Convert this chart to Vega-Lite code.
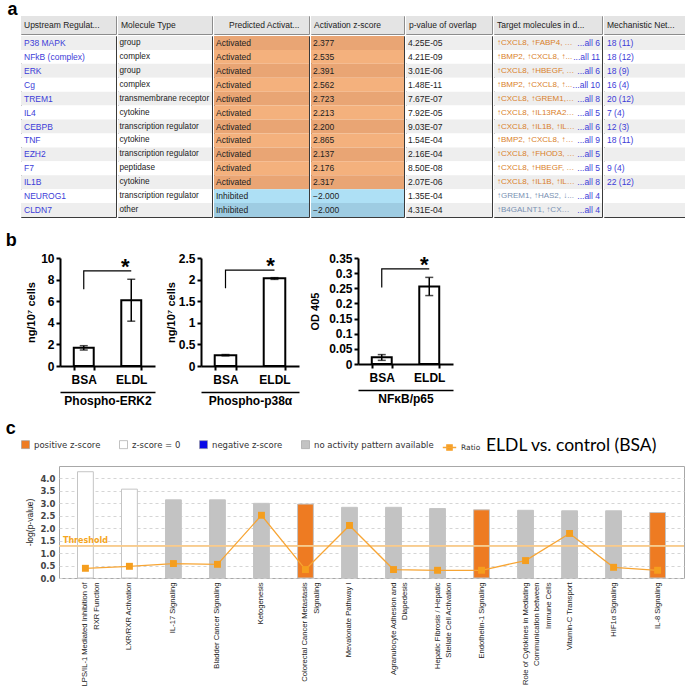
{
  "$schema": "https://vega.github.io/schema/vega-lite/v6.json",
  "padding": {"left": 5, "top": 0, "right": 0, "bottom": 0},
  "config": {
    "view": {"stroke": null},
    "font": "Liberation Sans",
    "title": {"anchor": "start", "fontSize": 18, "fontWeight": "bold", "color": "black", "font": "Liberation Sans", "offset": 2}
  },
  "resolve": {"scale": {"fill": "independent", "color": "independent", "stroke": "independent"}},
  "columns": 1,
  "align": "none",
  "spacing": 14,
  "datasets": {
    "headers": [
      {"col": "reg", "h": "Upstream Regulat..."},
      {"col": "type", "h": "Molecule Type"},
      {"col": "pred", "h": "Predicted Activat..."},
      {"col": "z", "h": "Activation z-score"},
      {"col": "p", "h": "p-value of overlap"},
      {"col": "tgt", "h": "Target molecules in d..."},
      {"col": "net", "h": "Mechanistic Net..."}
    ],
    "table": [
      {"r": 1, "reg": "P38 MAPK", "type": "group", "pred": "Activated", "z": 2.377, "p": "4.25E-05", "tgt": "↑CXCL8, ↑FABP4, ↑IL1B", "all": "...all 6", "net": "18 (11)"},
      {"r": 2, "reg": "NFkB (complex)", "type": "complex", "pred": "Activated", "z": 2.535, "p": "4.21E-09", "tgt": "↑BMP2, ↑CXCL8, ↑...", "all": "...all 11", "net": "18 (12)"},
      {"r": 3, "reg": "ERK", "type": "group", "pred": "Activated", "z": 2.391, "p": "3.01E-06", "tgt": "↑CXCL8, ↑HBEGF, ↑...", "all": "...all 6", "net": "18 (9)"},
      {"r": 4, "reg": "Cg", "type": "complex", "pred": "Activated", "z": 2.562, "p": "1.48E-11", "tgt": "↑BMP2, ↑CXCL8, ↑...", "all": "...all 10", "net": "16 (4)"},
      {"r": 5, "reg": "TREM1", "type": "transmembrane receptor", "pred": "Activated", "z": 2.723, "p": "7.67E-07", "tgt": "↑CXCL8, ↑GREM1, ↑...", "all": "...all 8", "net": "20 (12)"},
      {"r": 6, "reg": "IL4", "type": "cytokine", "pred": "Activated", "z": 2.213, "p": "7.92E-05", "tgt": "↑CXCL8, ↑IL13RA2, ↑...", "all": "...all 5", "net": "7 (4)"},
      {"r": 7, "reg": "CEBPB", "type": "transcription regulator", "pred": "Activated", "z": 2.2, "p": "9.03E-07", "tgt": "↑CXCL8, ↑IL1B, ↑IL24,", "all": "...all 6", "net": "12 (3)"},
      {"r": 8, "reg": "TNF", "type": "cytokine", "pred": "Activated", "z": 2.865, "p": "1.54E-04", "tgt": "↑BMP2, ↑CXCL8, ↑H...", "all": "...all 9", "net": "18 (11)"},
      {"r": 9, "reg": "EZH2", "type": "transcription regulator", "pred": "Activated", "z": 2.137, "p": "2.16E-04", "tgt": "↑CXCL8, ↑FHOD3, ↑I...", "all": "...all 5", "net": ""},
      {"r": 10, "reg": "F7", "type": "peptidase", "pred": "Activated", "z": 2.176, "p": "8.50E-08", "tgt": "↑CXCL8, ↑HBEGF, ↑I...", "all": "...all 5", "net": "9 (4)"},
      {"r": 11, "reg": "IL1B", "type": "cytokine", "pred": "Activated", "z": 2.317, "p": "2.07E-06", "tgt": "↑CXCL8, ↑IL1B, ↑IL24,", "all": "...all 8", "net": "22 (12)"},
      {"r": 12, "reg": "NEUROG1", "type": "transcription regulator", "pred": "Inhibited", "z": -2.0, "p": "1.35E-04", "tgt": "↑GREM1, ↑HAS2, ↓...", "all": "...all 4", "net": ""},
      {"r": 13, "reg": "CLDN7", "type": "other", "pred": "Inhibited", "z": -2.0, "p": "4.31E-04", "tgt": "↑B4GALNT1, ↑CXCL8, .", "all": "...all 4", "net": ""}
    ],
    "pathways": [
      {"pathway": "LPS/IL-1 Mediated Inhibition of|RXR Function", "logp": 4.27, "ratio": 0.39, "cls": "z-score = 0"},
      {"pathway": "LXR/RXR Activation", "logp": 3.57, "ratio": 0.47, "cls": "z-score = 0"},
      {"pathway": "IL-17 Signaling", "logp": 3.14, "ratio": 0.58, "cls": "no activity pattern available"},
      {"pathway": "Bladder Cancer Signaling", "logp": 3.14, "ratio": 0.55, "cls": "no activity pattern available"},
      {"pathway": "Ketogenesis", "logp": 3.0, "ratio": 2.52, "cls": "no activity pattern available"},
      {"pathway": "Colorectal Cancer Metastasis|Signaling", "logp": 2.97, "ratio": 0.34, "cls": "positive z-score"},
      {"pathway": "Mevalonate Pathway I", "logp": 2.84, "ratio": 2.11, "cls": "no activity pattern available"},
      {"pathway": "Agranulocyte Adhesion and|Diapedesis", "logp": 2.84, "ratio": 0.34, "cls": "no activity pattern available"},
      {"pathway": "Hepatic Fibrosis / Hepatic|Stellate Cell Activation", "logp": 2.79, "ratio": 0.31, "cls": "no activity pattern available"},
      {"pathway": "Endothelin-1 Signaling", "logp": 2.74, "ratio": 0.31, "cls": "positive z-score"},
      {"pathway": "Role of Cytokines in Mediating|Communication between|Immune Cells", "logp": 2.72, "ratio": 0.7, "cls": "no activity pattern available"},
      {"pathway": "Vitamin-C Transport", "logp": 2.7, "ratio": 1.79, "cls": "no activity pattern available"},
      {"pathway": "HIF1α Signaling", "logp": 2.7, "ratio": 0.43, "cls": "no activity pattern available"},
      {"pathway": "IL-8 Signaling", "logp": 2.63, "ratio": 0.31, "cls": "positive z-score"}
    ]
  },
  "concat": [
    {
      "title": {"text": "a", "dx": -13, "dy": 5},
      "spacing": 0,
      "vconcat": [
        {
          "spacing": 0,
          "hconcat": [
            {"width": 95, "height": 18, "data": {"name": "headers"}, "transform": [{"filter": "datum.col == 'reg'"}], "view": {"stroke": "#8C8C8C"},
             "layer": [
               {"mark": {"type": "rect", "fill": "#E4E4E4"}, "encoding": {"x": {"datum": "h", "type": "nominal", "axis": null, "scale": {"paddingInner": 0, "paddingOuter": 0}}, "y": {"datum": "h", "type": "nominal", "axis": null, "scale": {"paddingInner": 0, "paddingOuter": 0}}}},
               {"mark": {"type": "text", "align": "left", "dx": 3, "fontSize": 8.5, "fill": "#222"}, "encoding": {"x": {"datum": "h", "type": "nominal", "bandPosition": 0}, "y": {"datum": "h", "type": "nominal"}, "text": {"field": "h"}}}
             ]},
            {"width": 94, "height": 18, "data": {"name": "headers"}, "transform": [{"filter": "datum.col == 'type'"}], "view": {"stroke": "#8C8C8C"},
             "layer": [
               {"mark": {"type": "rect", "fill": "#E4E4E4"}, "encoding": {"x": {"datum": "h", "type": "nominal", "axis": null, "scale": {"paddingInner": 0, "paddingOuter": 0}}, "y": {"datum": "h", "type": "nominal", "axis": null, "scale": {"paddingInner": 0, "paddingOuter": 0}}}},
               {"mark": {"type": "text", "align": "left", "dx": 3, "fontSize": 8.5, "fill": "#222"}, "encoding": {"x": {"datum": "h", "type": "nominal", "bandPosition": 0}, "y": {"datum": "h", "type": "nominal"}, "text": {"field": "h"}}}
             ]},
            {"width": 95, "height": 18, "data": {"name": "headers"}, "transform": [{"filter": "datum.col == 'pred'"}], "view": {"stroke": "#8C8C8C"},
             "layer": [
               {"mark": {"type": "rect", "fill": "#E4E4E4"}, "encoding": {"x": {"datum": "h", "type": "nominal", "axis": null, "scale": {"paddingInner": 0, "paddingOuter": 0}}, "y": {"datum": "h", "type": "nominal", "axis": null, "scale": {"paddingInner": 0, "paddingOuter": 0}}}},
               {"mark": {"type": "text", "align": "left", "dx": 15, "fontSize": 8.5, "fill": "#222"}, "encoding": {"x": {"datum": "h", "type": "nominal", "bandPosition": 0}, "y": {"datum": "h", "type": "nominal"}, "text": {"field": "h"}}}
             ]},
            {"width": 93, "height": 18, "data": {"name": "headers"}, "transform": [{"filter": "datum.col == 'z'"}], "view": {"stroke": "#8C8C8C"},
             "layer": [
               {"mark": {"type": "rect", "fill": "#E4E4E4"}, "encoding": {"x": {"datum": "h", "type": "nominal", "axis": null, "scale": {"paddingInner": 0, "paddingOuter": 0}}, "y": {"datum": "h", "type": "nominal", "axis": null, "scale": {"paddingInner": 0, "paddingOuter": 0}}}},
               {"mark": {"type": "text", "align": "left", "dx": 3, "fontSize": 8.5, "fill": "#222"}, "encoding": {"x": {"datum": "h", "type": "nominal", "bandPosition": 0}, "y": {"datum": "h", "type": "nominal"}, "text": {"field": "h"}}}
             ]},
            {"width": 86, "height": 18, "data": {"name": "headers"}, "transform": [{"filter": "datum.col == 'p'"}], "view": {"stroke": "#8C8C8C"},
             "layer": [
               {"mark": {"type": "rect", "fill": "#E4E4E4"}, "encoding": {"x": {"datum": "h", "type": "nominal", "axis": null, "scale": {"paddingInner": 0, "paddingOuter": 0}}, "y": {"datum": "h", "type": "nominal", "axis": null, "scale": {"paddingInner": 0, "paddingOuter": 0}}}},
               {"mark": {"type": "text", "align": "left", "dx": 3, "fontSize": 8.5, "fill": "#222"}, "encoding": {"x": {"datum": "h", "type": "nominal", "bandPosition": 0}, "y": {"datum": "h", "type": "nominal"}, "text": {"field": "h"}}}
             ]},
            {"width": 108, "height": 18, "data": {"name": "headers"}, "transform": [{"filter": "datum.col == 'tgt'"}], "view": {"stroke": "#8C8C8C"},
             "layer": [
               {"mark": {"type": "rect", "fill": "#E4E4E4"}, "encoding": {"x": {"datum": "h", "type": "nominal", "axis": null, "scale": {"paddingInner": 0, "paddingOuter": 0}}, "y": {"datum": "h", "type": "nominal", "axis": null, "scale": {"paddingInner": 0, "paddingOuter": 0}}}},
               {"mark": {"type": "text", "align": "left", "dx": 3, "fontSize": 8.5, "fill": "#222"}, "encoding": {"x": {"datum": "h", "type": "nominal", "bandPosition": 0}, "y": {"datum": "h", "type": "nominal"}, "text": {"field": "h"}}}
             ]},
            {"width": 92, "height": 18, "data": {"name": "headers"}, "transform": [{"filter": "datum.col == 'net'"}], "view": {"stroke": "#8C8C8C"},
             "layer": [
               {"mark": {"type": "rect", "fill": "#E4E4E4"}, "encoding": {"x": {"datum": "h", "type": "nominal", "axis": null, "scale": {"paddingInner": 0, "paddingOuter": 0}}, "y": {"datum": "h", "type": "nominal", "axis": null, "scale": {"paddingInner": 0, "paddingOuter": 0}}}},
               {"mark": {"type": "text", "align": "left", "dx": 3, "fontSize": 8.5, "fill": "#222"}, "encoding": {"x": {"datum": "h", "type": "nominal", "bandPosition": 0}, "y": {"datum": "h", "type": "nominal"}, "text": {"field": "h"}}}
             ]}
          ]
        },
        {
          "spacing": 0,
          "hconcat": [
            {"width": 95, "height": 181, "data": {"name": "table"}, "view": {"stroke": "#3A3A3A"},
             "transform": [{"calculate": "datum.r % 2 == 1 ? 'odd' : 'even'", "as": "bg"}],
             "layer": [
               {"mark": {"type": "rect"}, "encoding": {
                 "x": {"datum": "cell", "type": "nominal", "axis": null, "scale": {"paddingInner": 0, "paddingOuter": 0}},
                 "y": {"field": "r", "type": "ordinal", "axis": null, "scale": {"paddingInner": 0, "paddingOuter": 0}},
                 "fill": {"field": "bg", "type": "nominal", "legend": null, "scale": {"domain": ["odd", "even", "Activated-odd", "Activated-even", "Inhibited-odd", "Inhibited-even"], "range": ["#EEEEEE", "#FFFFFF", "#E9A574", "#F4B17D", "#9ECCE2", "#AEE0F5"]}}}},
               {"mark": {"type": "text", "align": "left", "dx": 3, "fontSize": 8.5, "fill": "#3C3CD8"}, "encoding": {
                 "x": {"datum": "cell", "type": "nominal", "bandPosition": 0},
                 "y": {"field": "r", "type": "ordinal"},
                 "text": {"field": "reg"}}}
             ]},
            {"width": 94, "height": 181, "data": {"name": "table"}, "view": {"stroke": "#3A3A3A"},
             "transform": [{"calculate": "datum.r % 2 == 1 ? 'odd' : 'even'", "as": "bg"}],
             "layer": [
               {"mark": {"type": "rect"}, "encoding": {
                 "x": {"datum": "cell", "type": "nominal", "axis": null, "scale": {"paddingInner": 0, "paddingOuter": 0}},
                 "y": {"field": "r", "type": "ordinal", "axis": null, "scale": {"paddingInner": 0, "paddingOuter": 0}},
                 "fill": {"field": "bg", "type": "nominal", "legend": null, "scale": {"domain": ["odd", "even", "Activated-odd", "Activated-even", "Inhibited-odd", "Inhibited-even"], "range": ["#EEEEEE", "#FFFFFF", "#E9A574", "#F4B17D", "#9ECCE2", "#AEE0F5"]}}}},
               {"mark": {"type": "text", "align": "left", "dx": 1.5, "fontSize": 8.2, "fill": "#222"}, "encoding": {
                 "x": {"datum": "cell", "type": "nominal", "bandPosition": 0},
                 "y": {"field": "r", "type": "ordinal"},
                 "text": {"field": "type"}}}
             ]},
            {"width": 95, "height": 181, "data": {"name": "table"}, "view": {"stroke": "#3A3A3A"},
             "transform": [{"calculate": "datum.pred + '-' + (datum.r % 2 == 1 ? 'odd' : 'even')", "as": "bg"}],
             "layer": [
               {"mark": {"type": "rect"}, "encoding": {
                 "x": {"datum": "cell", "type": "nominal", "axis": null, "scale": {"paddingInner": 0, "paddingOuter": 0}},
                 "y": {"field": "r", "type": "ordinal", "axis": null, "scale": {"paddingInner": 0, "paddingOuter": 0}},
                 "fill": {"field": "bg", "type": "nominal", "legend": null, "scale": {"domain": ["odd", "even", "Activated-odd", "Activated-even", "Inhibited-odd", "Inhibited-even"], "range": ["#EEEEEE", "#FFFFFF", "#E9A574", "#F4B17D", "#9ECCE2", "#AEE0F5"]}}}},
               {"mark": {"type": "text", "align": "left", "dx": 2, "fontSize": 8.5, "fill": "#222"}, "encoding": {
                 "x": {"datum": "cell", "type": "nominal", "bandPosition": 0},
                 "y": {"field": "r", "type": "ordinal"},
                 "text": {"field": "pred"}}}
             ]},
            {"width": 93, "height": 181, "data": {"name": "table"}, "view": {"stroke": "#3A3A3A"},
             "transform": [{"calculate": "datum.pred + '-' + (datum.r % 2 == 1 ? 'odd' : 'even')", "as": "bg"}],
             "layer": [
               {"mark": {"type": "rect"}, "encoding": {
                 "x": {"datum": "cell", "type": "nominal", "axis": null, "scale": {"paddingInner": 0, "paddingOuter": 0}},
                 "y": {"field": "r", "type": "ordinal", "axis": null, "scale": {"paddingInner": 0, "paddingOuter": 0}},
                 "fill": {"field": "bg", "type": "nominal", "legend": null, "scale": {"domain": ["odd", "even", "Activated-odd", "Activated-even", "Inhibited-odd", "Inhibited-even"], "range": ["#EEEEEE", "#FFFFFF", "#E9A574", "#F4B17D", "#9ECCE2", "#AEE0F5"]}}}},
               {"mark": {"type": "text", "align": "left", "dx": 2, "fontSize": 8.5, "fill": "#222"}, "encoding": {
                 "x": {"datum": "cell", "type": "nominal", "bandPosition": 0},
                 "y": {"field": "r", "type": "ordinal"},
                 "text": {"field": "z", "type": "quantitative", "format": ".3f"}}}
             ]},
            {"width": 86, "height": 181, "data": {"name": "table"}, "view": {"stroke": "#3A3A3A"},
             "transform": [{"calculate": "datum.r % 2 == 1 ? 'odd' : 'even'", "as": "bg"}],
             "layer": [
               {"mark": {"type": "rect"}, "encoding": {
                 "x": {"datum": "cell", "type": "nominal", "axis": null, "scale": {"paddingInner": 0, "paddingOuter": 0}},
                 "y": {"field": "r", "type": "ordinal", "axis": null, "scale": {"paddingInner": 0, "paddingOuter": 0}},
                 "fill": {"field": "bg", "type": "nominal", "legend": null, "scale": {"domain": ["odd", "even", "Activated-odd", "Activated-even", "Inhibited-odd", "Inhibited-even"], "range": ["#EEEEEE", "#FFFFFF", "#E9A574", "#F4B17D", "#9ECCE2", "#AEE0F5"]}}}},
               {"mark": {"type": "text", "align": "left", "dx": 2, "fontSize": 8.5, "fill": "#222"}, "encoding": {
                 "x": {"datum": "cell", "type": "nominal", "bandPosition": 0},
                 "y": {"field": "r", "type": "ordinal"},
                 "text": {"field": "p"}}}
             ]},
            {"width": 108, "height": 181, "data": {"name": "table"}, "view": {"stroke": "#3A3A3A"},
             "transform": [{"calculate": "datum.r % 2 == 1 ? 'odd' : 'even'", "as": "bg"}],
             "layer": [
               {"mark": {"type": "rect"}, "encoding": {
                 "x": {"datum": "cell", "type": "nominal", "axis": null, "scale": {"paddingInner": 0, "paddingOuter": 0}},
                 "y": {"field": "r", "type": "ordinal", "axis": null, "scale": {"paddingInner": 0, "paddingOuter": 0}},
                 "fill": {"field": "bg", "type": "nominal", "legend": null, "scale": {"domain": ["odd", "even", "Activated-odd", "Activated-even", "Inhibited-odd", "Inhibited-even"], "range": ["#EEEEEE", "#FFFFFF", "#E9A574", "#F4B17D", "#9ECCE2", "#AEE0F5"]}}}},
               {"mark": {"type": "text", "align": "left", "dx": 3, "fontSize": 8, "limit": 78}, "encoding": {
                 "x": {"datum": "cell", "type": "nominal", "bandPosition": 0},
                 "y": {"field": "r", "type": "ordinal"},
                 "color": {"field": "pred", "type": "nominal", "legend": null, "scale": {"domain": ["Activated", "Inhibited"], "range": ["#D9802A", "#7890B2"]}},
                 "text": {"field": "tgt"}}},
               {"mark": {"type": "text", "align": "right", "dx": -2, "fontSize": 8.5, "fill": "#3C3CD8"}, "encoding": {
                 "x": {"datum": "cell", "type": "nominal", "bandPosition": 1},
                 "y": {"field": "r", "type": "ordinal"},
                 "text": {"field": "all"}}}
             ]},
            {"width": 92, "height": 181, "data": {"name": "table"}, "view": {"stroke": "#3A3A3A"},
             "transform": [{"calculate": "datum.r % 2 == 1 ? 'odd' : 'even'", "as": "bg"}],
             "layer": [
               {"mark": {"type": "rect"}, "encoding": {
                 "x": {"datum": "cell", "type": "nominal", "axis": null, "scale": {"paddingInner": 0, "paddingOuter": 0}},
                 "y": {"field": "r", "type": "ordinal", "axis": null, "scale": {"paddingInner": 0, "paddingOuter": 0}},
                 "fill": {"field": "bg", "type": "nominal", "legend": null, "scale": {"domain": ["odd", "even", "Activated-odd", "Activated-even", "Inhibited-odd", "Inhibited-even"], "range": ["#EEEEEE", "#FFFFFF", "#E9A574", "#F4B17D", "#9ECCE2", "#AEE0F5"]}}}},
               {"mark": {"type": "text", "align": "left", "dx": 3, "fontSize": 8.5, "fill": "#3C3CD8"}, "encoding": {
                 "x": {"datum": "cell", "type": "nominal", "bandPosition": 0},
                 "y": {"field": "r", "type": "ordinal"},
                 "text": {"field": "net"}}}
             ]}
          ]
        }
      ]
    },
    {
      "title": {"text": "b", "dx": -13},
      "spacing": 0,
      "hconcat": [
        {"width": 1, "height": 1, "data": {"values": [{"s": 0}]}, "mark": {"type": "point", "opacity": 0}, "encoding": {}},
        {
          "spacing": 10,
          "hconcat": [
            {
              "width": 95, "height": 108,
              "data": {"values": [{"group": "BSA", "mean": 1.68, "low": 1.48, "high": 1.88}, {"group": "ELDL", "mean": 6.08, "low": 4.15, "high": 8.03}]},
              "resolve": {"axis": {"x": "independent", "y": "independent"}},
              "layer": [
                {"mark": {"type": "bar", "fill": "white", "stroke": "black", "strokeWidth": 2},
                 "encoding": {
                   "x": {"field": "group", "type": "nominal", "sort": ["BSA", "ELDL"], "scale": {"paddingInner": 0.58}, "axis": {"title": null, "labelAngle": 0, "labelFontWeight": "bold", "labelFontSize": 12, "labelColor": "black", "labelPadding": 4, "domainColor": "black", "domainWidth": 2, "tickBand": "extent", "tickColor": "black", "tickWidth": 2, "tickSize": 4}},
                   "y": {"field": "mean", "type": "quantitative", "scale": {"domain": [0, 10], "nice": false}, "axis": {"title": "ng/10⁷ cells", "values": [0, 2, 4, 6, 8, 10], "format": "d", "labelOverlap": false, "grid": false, "labelFontWeight": "bold", "labelFontSize": 12, "labelColor": "black", "domainColor": "black", "domainWidth": 2, "tickColor": "black", "tickWidth": 2, "tickSize": 4, "titleFontWeight": "bold", "titleFontSize": 11, "titleColor": "black", "titlePadding": 4}}}},
                {"mark": {"type": "errorbar", "ticks": {"size": 8}, "thickness": 1.5, "color": "black"},
                 "encoding": {"x": {"field": "group", "type": "nominal", "axis": null}, "y": {"field": "low", "type": "quantitative", "axis": null}, "y2": {"field": "high"}}},
                {"data": {"values": [{"group": "BSA", "level": 7.1, "step": 1}, {"group": "BSA", "level": 8.8, "step": 2}, {"group": "ELDL", "level": 8.8, "step": 3}]},
                 "mark": {"type": "line", "color": "black", "strokeWidth": 1.2},
                 "encoding": {"x": {"field": "group", "type": "nominal", "axis": {"orient": "bottom", "offset": 26, "labels": false, "ticks": false, "domainColor": "black", "domainWidth": 1.5, "title": "Phospho-ERK2", "titleFontWeight": "bold", "titleFontSize": 12, "titleColor": "black", "titlePadding": 3}}, "y": {"field": "level", "type": "quantitative", "axis": null}, "order": {"field": "step"}}},
                {"data": {"values": [{"group": "ELDL", "level": 8.8, "sig": "*"}]},
                 "mark": {"type": "text", "fontSize": 22, "fontWeight": "bold", "baseline": "middle", "dx": -6, "dy": -4},
                 "encoding": {"x": {"field": "group", "type": "nominal", "axis": null}, "y": {"field": "level", "type": "quantitative", "axis": null}, "text": {"field": "sig"}}}
              ]
            },
            {
              "width": 98, "height": 108,
              "data": {"values": [{"group": "BSA", "mean": 0.25, "low": 0.235, "high": 0.265}, {"group": "ELDL", "mean": 2.03, "low": 2.005, "high": 2.045}]},
              "resolve": {"axis": {"x": "independent", "y": "independent"}},
              "layer": [
                {"mark": {"type": "bar", "fill": "white", "stroke": "black", "strokeWidth": 2},
                 "encoding": {
                   "x": {"field": "group", "type": "nominal", "sort": ["BSA", "ELDL"], "scale": {"paddingInner": 0.56}, "axis": {"title": null, "labelAngle": 0, "labelFontWeight": "bold", "labelFontSize": 12, "labelColor": "black", "labelPadding": 4, "domainColor": "black", "domainWidth": 2, "tickBand": "extent", "tickColor": "black", "tickWidth": 2, "tickSize": 4}},
                   "y": {"field": "mean", "type": "quantitative", "scale": {"domain": [0, 2.5], "nice": false}, "axis": {"title": "ng/10⁷ cells", "values": [0, 0.5, 1, 1.5, 2, 2.5], "format": "~g", "labelOverlap": false, "grid": false, "labelFontWeight": "bold", "labelFontSize": 12, "labelColor": "black", "domainColor": "black", "domainWidth": 2, "tickColor": "black", "tickWidth": 2, "tickSize": 4, "titleFontWeight": "bold", "titleFontSize": 11, "titleColor": "black", "titlePadding": 2}}}},
                {"mark": {"type": "errorbar", "ticks": {"size": 8}, "thickness": 1.5, "color": "black"},
                 "encoding": {"x": {"field": "group", "type": "nominal", "axis": null}, "y": {"field": "low", "type": "quantitative", "axis": null}, "y2": {"field": "high"}}},
                {"data": {"values": [{"group": "BSA", "level": 1.8, "step": 1}, {"group": "BSA", "level": 2.22, "step": 2}, {"group": "ELDL", "level": 2.22, "step": 3}]},
                 "mark": {"type": "line", "color": "black", "strokeWidth": 1.2},
                 "encoding": {"x": {"field": "group", "type": "nominal", "axis": {"orient": "bottom", "offset": 26, "labels": false, "ticks": false, "domainColor": "black", "domainWidth": 1.5, "title": "Phospho-p38α", "titleFontWeight": "bold", "titleFontSize": 12, "titleColor": "black", "titlePadding": 3}}, "y": {"field": "level", "type": "quantitative", "axis": null}, "order": {"field": "step"}}},
                {"data": {"values": [{"group": "ELDL", "level": 2.22, "sig": "*"}]},
                 "mark": {"type": "text", "fontSize": 22, "fontWeight": "bold", "baseline": "middle", "dx": -4, "dy": -4},
                 "encoding": {"x": {"field": "group", "type": "nominal", "axis": null}, "y": {"field": "level", "type": "quantitative", "axis": null}, "text": {"field": "sig"}}}
              ]
            },
            {
              "width": 95, "height": 106,
              "data": {"values": [{"group": "BSA", "mean": 0.022, "low": 0.012, "high": 0.031}, {"group": "ELDL", "mean": 0.256, "low": 0.226, "high": 0.286}]},
              "resolve": {"axis": {"x": "independent", "y": "independent"}},
              "layer": [
                {"mark": {"type": "bar", "fill": "white", "stroke": "black", "strokeWidth": 2},
                 "encoding": {
                   "x": {"field": "group", "type": "nominal", "sort": ["BSA", "ELDL"], "scale": {"paddingInner": 0.58}, "axis": {"title": null, "labelAngle": 0, "labelFontWeight": "bold", "labelFontSize": 12, "labelColor": "black", "labelPadding": 4, "domainColor": "black", "domainWidth": 2, "tickBand": "extent", "tickColor": "black", "tickWidth": 2, "tickSize": 4}},
                   "y": {"field": "mean", "type": "quantitative", "scale": {"domain": [0, 0.35], "nice": false}, "axis": {"title": "OD 405", "values": [0, 0.05, 0.1, 0.15, 0.2, 0.25, 0.3, 0.35], "format": "~g", "labelOverlap": false, "grid": false, "labelFontWeight": "bold", "labelFontSize": 12, "labelColor": "black", "domainColor": "black", "domainWidth": 2, "tickColor": "black", "tickWidth": 2, "tickSize": 4, "titleFontWeight": "bold", "titleFontSize": 11, "titleColor": "black", "titlePadding": 8}}}},
                {"mark": {"type": "errorbar", "ticks": {"size": 8}, "thickness": 1.5, "color": "black"},
                 "encoding": {"x": {"field": "group", "type": "nominal", "axis": null}, "y": {"field": "low", "type": "quantitative", "axis": null}, "y2": {"field": "high"}}},
                {"data": {"values": [{"group": "BSA", "level": 0.253, "step": 1}, {"group": "BSA", "level": 0.314, "step": 2}, {"group": "ELDL", "level": 0.314, "step": 3}]},
                 "mark": {"type": "line", "color": "black", "strokeWidth": 1.2},
                 "encoding": {"x": {"field": "group", "type": "nominal", "axis": {"orient": "bottom", "offset": 26, "labels": false, "ticks": false, "domainColor": "black", "domainWidth": 1.5, "title": "NFκB/p65", "titleFontWeight": "bold", "titleFontSize": 12, "titleColor": "black", "titlePadding": 3}}, "y": {"field": "level", "type": "quantitative", "axis": null}, "order": {"field": "step"}}},
                {"data": {"values": [{"group": "ELDL", "level": 0.314, "sig": "*"}]},
                 "mark": {"type": "text", "fontSize": 22, "fontWeight": "bold", "baseline": "middle", "dx": -5, "dy": -4},
                 "encoding": {"x": {"field": "group", "type": "nominal", "axis": null}, "y": {"field": "level", "type": "quantitative", "axis": null}, "text": {"field": "sig"}}}
              ]
            }
          ]
        }
      ]
    },
    {
      "title": {"text": "c", "dx": -13},
      "spacing": 0,
      "hconcat": [
        {"width": 1, "height": 1, "data": {"values": [{"s": 0}]}, "mark": {"type": "point", "opacity": 0}, "encoding": {}},
        {
          "width": 625, "height": 112,
          "data": {"name": "pathways"},
          "view": {"stroke": "#A8A8A8"},
          "resolve": {"axis": {"x": "independent", "y": "independent"}},
          "layer": [
            {"mark": {"type": "bar", "stroke": "#C4C4C4", "strokeWidth": 1},
             "encoding": {
               "x": {"field": "pathway", "type": "nominal", "sort": null, "scale": {"paddingInner": 0.64, "paddingOuter": 0.42},
                     "axis": {"title": null, "labelAngle": -90, "labelAlign": "right", "labelBaseline": "middle", "labelExpr": "split(datum.label, '|')", "labelFont": "Liberation Sans", "labelFontSize": 7.6, "labelLineHeight": 11.5, "labelColor": "#222", "labelPadding": 4, "ticks": false, "domain": false, "labelLimit": 0}},
               "y": {"field": "logp", "type": "quantitative", "scale": {"domain": [0, 4.5], "nice": false},
                     "axis": {"title": "-log(p-value)", "values": [0, 0.5, 1, 1.5, 2, 2.5, 3, 3.5, 4], "format": ".1f", "labelOverlap": false, "labelFont": "DejaVu Sans", "labelFontSize": 8.5, "labelFontWeight": "bold", "labelColor": "#444", "ticks": false, "domain": false, "grid": true, "gridDash": [3, 3], "gridColor": "#D5D5D5", "titleFont": "Liberation Sans", "titleFontSize": 8.5, "titleFontWeight": "normal", "titleColor": "#222", "titlePadding": 5, "labelPadding": 4}},
               "fill": {"field": "cls", "type": "nominal",
                        "scale": {"domain": ["positive z-score", "z-score = 0", "negative z-score", "no activity pattern available"], "range": ["#EE7B22", "#FFFFFF", "#0A0AE6", "#C3C3C3"]},
                        "legend": {"orient": "top", "direction": "horizontal", "title": null, "symbolType": "square", "symbolSize": 64, "symbolStrokeColor": "#999999", "symbolStrokeWidth": 0.6, "labelFont": "DejaVu Sans", "labelFontSize": 8.5, "labelColor": "#333", "columnPadding": 17, "offset": 8}}
             }},
            {"mark": {"type": "rule", "color": "#F9CB90", "strokeWidth": 1}, "encoding": {"y": {"datum": 1.3, "type": "quantitative", "axis": null}}},
            {"transform": [{"filter": "indexof(datum.pathway, 'LPS') == 0"}],
             "mark": {"type": "text", "text": "Threshold", "font": "DejaVu Sans", "fontSize": 8, "fontWeight": "bold", "color": "#F5A623", "baseline": "bottom", "dy": -1},
             "encoding": {"x": {"field": "pathway", "type": "nominal", "sort": null, "axis": null}, "y": {"datum": 1.3, "type": "quantitative", "axis": null}}},
            {"mark": {"type": "line", "strokeWidth": 1.3},
             "encoding": {"x": {"field": "pathway", "type": "nominal", "sort": null, "axis": null}, "y": {"field": "ratio", "type": "quantitative", "axis": null},
                          "stroke": {"datum": "Ratio", "type": "nominal", "scale": {"range": ["#F7A534"]},
                                     "legend": {"orient": "top", "direction": "horizontal", "title": "ELDL vs. control (BSA)", "titleOrient": "right", "titleFont": "Lato", "titleFontSize": 17.5, "titleFontWeight": "normal", "titleColor": "black", "titlePadding": 6, "symbolType": "M-1,0H1M-0.4,-0.4H0.4V0.4H-0.4Z", "symbolSize": 180, "symbolStrokeWidth": 1.3, "symbolFillColor": "#F59E1E", "labelFont": "DejaVu Sans", "labelFontSize": 7.5, "labelColor": "#333", "offset": 8}}}},
            {"mark": {"type": "square", "size": 48, "filled": true, "color": "#F59E1E", "opacity": 1},
             "encoding": {"x": {"field": "pathway", "type": "nominal", "sort": null, "axis": null}, "y": {"field": "ratio", "type": "quantitative", "axis": null}}}
          ]
        }
      ]
    }
  ]
}
